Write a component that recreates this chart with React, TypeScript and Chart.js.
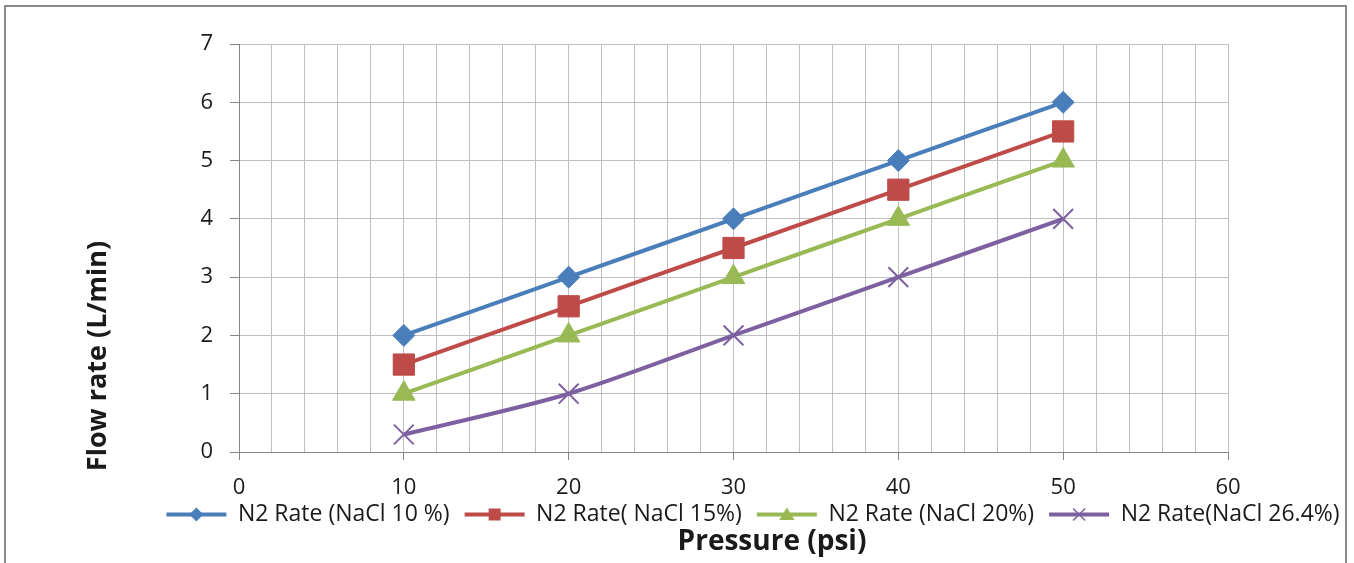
import React, { useEffect, useRef } from "react";
import { Chart, registerables } from "chart.js";

Chart.register(...registerables);

const pressures = [10, 20, 30, 40, 50];
const nacl10 = [2, 3, 4, 5, 6];
const nacl15 = [1.5, 2.5, 3.5, 4.5, 5.5];
const nacl20 = [1, 2, 3, 4, 5];
const nacl264 = [0.3, 1, 2, 3, 4];
const seriesLabels = [
  "N2 Rate (NaCl 10 %)",
  "N2 Rate( NaCl 15%)",
  "N2 Rate (NaCl 20%)",
  "N2 Rate(NaCl 26.4%)",
];
const xTitle = "Pressure (psi)";
const yTitle = "Flow rate (L/min)";

const COLORS = ["#4A7EBB", "#BE4B48", "#98B954", "#7D60A0"];
const FONT = "'Open Sans', Lato, sans-serif";
const TEXT = "#1a1a1a";
const LEGEND_GAP = 12;

function drawMarker(ctx: CanvasRenderingContext2D, kind: number, x: number, y: number, s: number, color: string) {
  ctx.save();
  ctx.fillStyle = color;
  ctx.strokeStyle = color;
  ctx.beginPath();
  if (kind === 0) {
    ctx.moveTo(x - s, y);
    ctx.lineTo(x, y - s);
    ctx.lineTo(x + s, y);
    ctx.lineTo(x, y + s);
    ctx.closePath();
    ctx.fill();
  } else if (kind === 1) {
    ctx.rect(x - s, y - s, 2 * s, 2 * s);
    ctx.fill();
  } else if (kind === 2) {
    ctx.moveTo(x, y - s);
    ctx.lineTo(x + s * 1.1, y + s * 0.8);
    ctx.lineTo(x - s * 1.1, y + s * 0.8);
    ctx.closePath();
    ctx.fill();
  } else {
    ctx.lineWidth = 1.5;
    ctx.moveTo(x - s, y - s);
    ctx.lineTo(x + s, y + s);
    ctx.moveTo(x + s, y - s);
    ctx.lineTo(x - s, y + s);
    ctx.stroke();
  }
  ctx.restore();
}

const extrasPlugin = {
  id: "extras",
  afterDraw(chart: any) {
    const ctx: CanvasRenderingContext2D = chart.ctx;
    const legend = chart.legend;
    if (legend && legend.legendHitBoxes) {
      const bw = legend.options.labels.boxWidth;
      const sizes = [7, 6, 7, 6];
      legend.legendHitBoxes.forEach((hb: any, i: number) => {
        const x0 = hb.left + LEGEND_GAP;
        const x1 = hb.left + bw;
        const cy = hb.top + hb.height / 2;
        ctx.save();
        ctx.strokeStyle = COLORS[i];
        ctx.lineWidth = 4;
        ctx.beginPath();
        ctx.moveTo(x0, cy);
        ctx.lineTo(x1, cy);
        ctx.stroke();
        ctx.restore();
        drawMarker(ctx, i, (x0 + x1) / 2, cy, sizes[i], COLORS[i]);
      });
    }
    ctx.save();
    ctx.fillStyle = TEXT;
    ctx.font = `bold 28px ${FONT}`;
    ctx.textAlign = "center";
    ctx.textBaseline = "middle";
    ctx.fillText(xTitle, 772, 542);
    ctx.translate(98, 356);
    ctx.rotate(-Math.PI / 2);
    ctx.font = `bold 27px ${FONT}`;
    ctx.fillText(yTitle, 0, 0);
    ctx.restore();
  },
};

export default function App() {
  const canvasRef = useRef<HTMLCanvasElement | null>(null);

  useEffect(() => {
    const canvas = canvasRef.current;
    if (!canvas) return;
    const series = [nacl10, nacl15, nacl20, nacl264];
    const styles = ["rectRot", "rect", "triangle", "crossRot"];
    const radii = [11, 15, 13, 14];
    const chart = new Chart(canvas, {
      type: "line",
      data: {
        datasets: series.map((vals, i) => ({
          label: seriesLabels[i],
          data: pressures.map((x, j) => ({ x, y: vals[j] })),
          borderColor: COLORS[i],
          backgroundColor: COLORS[i],
          pointBackgroundColor: COLORS[i],
          pointBorderColor: COLORS[i],
          borderWidth: 4,
          pointStyle: styles[i] as any,
          pointRadius: radii[i],
          pointBorderWidth: i === 3 ? 2 : 1,
          tension: 0.3,
          fill: false,
        })),
      },
      options: {
        responsive: false,
        animation: false,
        layout: { padding: { left: 140, right: 0, top: 44, bottom: 27 } },
        plugins: {
          tooltip: { enabled: false },
          title: { display: false },
          legend: {
            display: true,
            position: "bottom",
            labels: {
              boxWidth: 72,
              boxHeight: 4,
              padding: 3,
              color: TEXT,
              font: { family: FONT, size: 23 },
              generateLabels: (c: any) =>
                (Chart.defaults.plugins.legend.labels as any)
                  .generateLabels(c)
                  .map((l: any) => ({
                    ...l,
                    fillStyle: "rgba(0,0,0,0)",
                    strokeStyle: "rgba(0,0,0,0)",
                    lineWidth: 0,
                  })),
            },
          },
        },
        scales: {
          x: {
            type: "linear",
            min: 0,
            max: 60,
            afterFit: (s: any) => {
              s.height = 48;
            },
            ticks: {
              stepSize: 2,
              autoSkip: false,
              maxRotation: 0,
              padding: 16,
              color: TEXT,
              font: { family: FONT, size: 22, lineHeight: 1.1 },
              callback: (v: any) => (Number(v) % 10 === 0 ? String(v) : ""),
            },
            grid: {
              color: "#BFBFBF",
              lineWidth: 1,
              tickLength: 8,
              tickColor: (ctx: any) =>
                ctx.tick && Number(ctx.tick.value) % 10 === 0 ? "#868686" : "rgba(0,0,0,0)",
            },
            border: { color: "#868686", width: 1 },
          },
          y: {
            type: "linear",
            min: 0,
            max: 7,
            afterFit: (s: any) => {
              s.width = 99;
            },
            ticks: {
              stepSize: 1,
              padding: 17,
              color: TEXT,
              font: { family: FONT, size: 22 },
            },
            grid: { color: "#BFBFBF", lineWidth: 1, tickLength: 9, tickColor: "#868686" },
            border: { color: "#868686", width: 1 },
          },
          yR: {
            type: "linear",
            position: "right",
            display: true,
            afterFit: (s: any) => {
              s.width = 126;
            },
            ticks: { display: false },
            grid: { display: false, drawTicks: false },
            border: { display: false },
          },
        },
      },
      plugins: [extrasPlugin],
    });
    return () => chart.destroy();
  }, []);

  return (
    <div
      style={{
        position: "fixed",
        left: 0,
        top: 0,
        width: 1354,
        height: 563,
        background: "#fff",
        overflow: "hidden",
      }}
    >
      <div
        style={{
          position: "absolute",
          left: 4,
          top: 5,
          width: 1343,
          height: 620,
          border: "2px solid #8a8a8a",
          boxSizing: "border-box",
        }}
      />
      <canvas
        ref={canvasRef}
        width={1354}
        height={563}
        style={{ position: "absolute", left: 0, top: 0, width: 1354, height: 563 }}
      />
    </div>
  );
}
